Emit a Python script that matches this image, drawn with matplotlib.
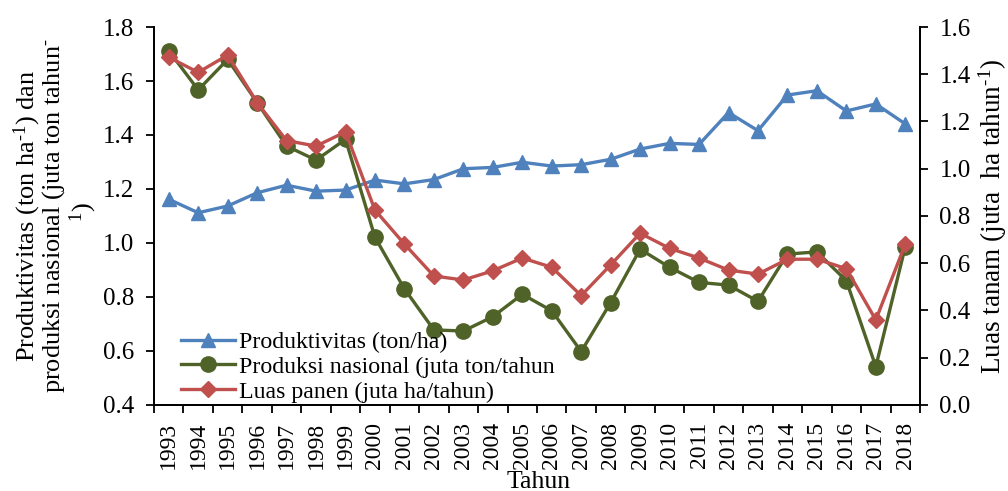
import numpy as np
import matplotlib
matplotlib.use("Agg")
import matplotlib.pyplot as plt

plt.rcParams['font.family'] = ['Liberation Serif', 'DejaVu Serif']
plt.rcParams['mathtext.fontset'] = 'custom'
plt.rcParams['mathtext.rm'] = 'Liberation Serif'
plt.rcParams['mathtext.it'] = 'Liberation Serif:italic'

# Data
tahun = [str(y) for y in range(1993, 2019)]
produktivitas = [1.162, 1.112, 1.137, 1.186, 1.214, 1.192, 1.196, 1.233, 1.219, 1.235,
                 1.275, 1.280, 1.299, 1.285, 1.290, 1.310, 1.348, 1.369, 1.365, 1.483,
                 1.416, 1.548, 1.564, 1.489, 1.515, 1.441]
produksi = [1.712, 1.567, 1.680, 1.520, 1.359, 1.307, 1.384, 1.021, 0.830, 0.678,
            0.674, 0.727, 0.810, 0.749, 0.598, 0.779, 0.977, 0.910, 0.854, 0.844,
            0.784, 0.959, 0.967, 0.860, 0.542, 0.986]
luas_panen = [1.472, 1.408, 1.481, 1.280, 1.119, 1.096, 1.156, 0.825, 0.681, 0.546,
              0.529, 0.568, 0.622, 0.583, 0.463, 0.593, 0.727, 0.663, 0.622, 0.571,
              0.554, 0.617, 0.617, 0.577, 0.360, 0.681]

BLUE = '#4F81BD'
GREEN = '#4F6228'
RED = '#C0504D'

fig = plt.figure(figsize=(10.08, 4.91), dpi=100)
ax = fig.add_axes([0.1528, 0.1752, 0.7599, 0.7698])
ax2 = ax.twinx()

x = np.arange(len(tahun))
l1, = ax.plot(x, produktivitas, color=BLUE, lw=2.4, marker='^', ms=10,
              label='Produktivitas (ton/ha)')
l2, = ax.plot(x, produksi, color=GREEN, lw=2.4, marker='o', ms=11,
              label='Produksi nasional (juta ton/tahun')
l3, = ax2.plot(x, luas_panen, color=RED, lw=2.4, marker='D', ms=8,
               label='Luas panen (juta ha/tahun)')

ax.set_xlim(-0.5, len(tahun) - 0.5)
ax.set_ylim(0.4, 1.8)
ax.set_yticks(np.arange(0.4, 1.81, 0.2))
ax.set_yticklabels([f'{v:.1f}' for v in np.arange(0.4, 1.81, 0.2)])
ax2.set_ylim(0.0, 1.6)
ax2.set_yticks(np.arange(0.0, 1.61, 0.2))
ax2.set_yticklabels([f'{v:.1f}' for v in np.arange(0.0, 1.61, 0.2)])

# category axis: ticks on the boundaries, labels at the centres
ax.set_xticks(np.arange(-0.5, len(tahun), 1.0))
ax.set_xticklabels([])
ax.set_xticks(x, minor=True)
ax.set_xticklabels(tahun, minor=True, rotation=90, fontsize=17)
ax.tick_params(axis='x', which='minor', length=0, pad=12)
ax.tick_params(axis='x', which='major', direction='out', length=6, width=1.3)
ax.tick_params(axis='y', direction='out', length=6, width=1.3, labelsize=18, pad=8)
ax2.tick_params(axis='y', direction='out', length=6, width=1.3, labelsize=18, pad=8)

for a in (ax, ax2):
    a.spines['top'].set_visible(False)
    for s in ('left', 'right', 'bottom'):
        a.spines[s].set_linewidth(1.3)

fig.text(539 / 1008, 1 - 488 / 491, 'Tahun', ha='center', va='baseline', fontsize=18.5)

fig.text(0.027, 0.56, 'Produktivitas (ton ha$^{\\mathrm{\u20101}}$) dan', rotation=90,
         ha='center', va='center', fontsize=19)
fig.text(0.053, 0.56, 'produksi nasional (juta ton tahun$^{\\mathrm{\u2010}}$', rotation=90,
         ha='center', va='center', fontsize=19)
fig.text(0.083, 0.568, r'$^{\mathrm{1}}$)', rotation=90,
         ha='center', va='center', fontsize=19)
fig.text(0.985, 0.56, 'Luas tanam (juta  ha tahun$^{\\mathrm{\u20101}}$)', rotation=90,
         ha='center', va='center', fontsize=19.5)

ax.legend(handles=[l1, l2, l3], loc='lower left', bbox_to_anchor=(0.013, -0.038),
          frameon=False, fontsize=17.2, labelspacing=0.13, handlelength=2.26,
          handletextpad=0.2, borderpad=0.2)

fig.savefig('out.png', dpi=100)
